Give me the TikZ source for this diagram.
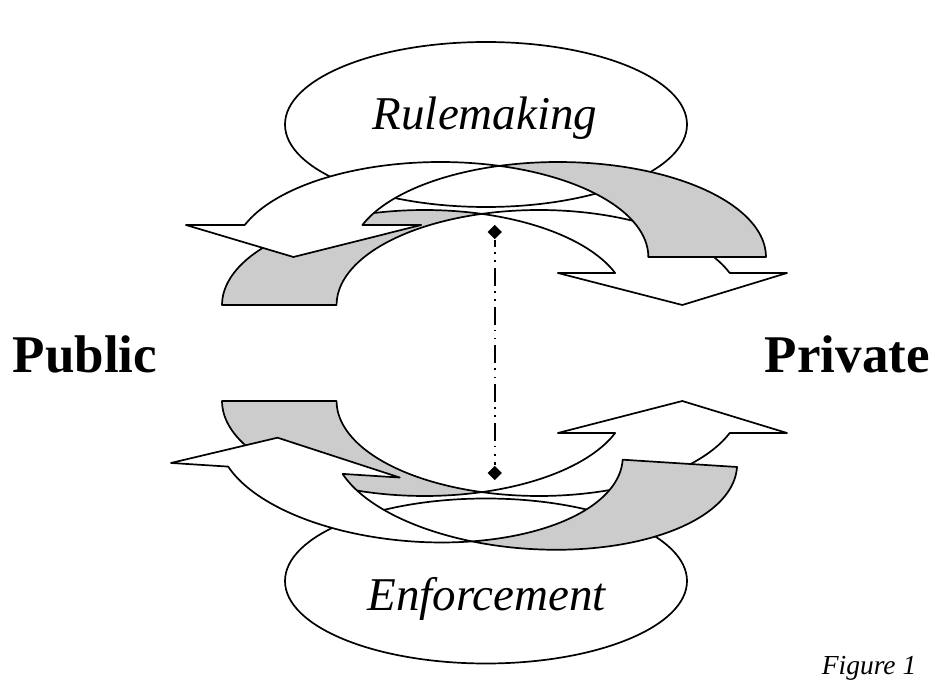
\documentclass[tikz,border=0pt]{standalone}
\usepackage{fontspec}
\setmainfont{Liberation Serif}
\usetikzlibrary{shapes.geometric}
\definecolor{bandgrey}{RGB}{204,204,204}
% one twisted curved arrow: grey back crescent with foot at left, white front crescent with head at right
\newcommand\twistarrow{%
  \filldraw[greyband] plot[domain=-180:-73.565] ({205*cos(\x)},{95*sin(\x)})
     -- plot[domain=-106.435:-180] ({116+205*cos(\x)},{95*sin(\x)}) -- cycle;
  \filldraw[whiteband] plot[domain=-106.435:-19.685] ({116+205*cos(\x)},{95*sin(\x)})
     -- (367.02,-32) -- (261,0) -- (135.02,-32)
     -- plot[domain=-19.685:-73.565] ({205*cos(\x)},{95*sin(\x)}) -- cycle;
}
\begin{document}
\begin{tikzpicture}[x=1pt,y=-1pt,
  line width=1.7pt, line join=round, samples=60,
  greyband/.style={fill=bandgrey, draw=black},
  whiteband/.style={fill=white, draw=black},
  oval/.style={draw=black, fill=white, ellipse, inner sep=0pt, minimum width=402pt, minimum height=165pt},
  ovaltext/.style={font=\fontsize{47}{51}\selectfont\itshape, inner sep=0pt, anchor=base},
  sidetext/.style={font=\fontsize{53}{58}\selectfont\bfseries, inner sep=0pt, anchor=base west},
  captiontext/.style={font=\fontsize{27.5}{30}\selectfont\itshape, inner sep=0pt, anchor=base west},
  endmark/.style={diamond, fill=black, draw=none, inner sep=0pt, minimum width=15pt, minimum height=15pt},
  centreline/.style={line width=1.6pt, line cap=butt,
     dash pattern=on 18pt off 5pt on 1.6pt off 6.5pt on 1.6pt off 6pt, dash phase=11pt}
]
\useasboundingbox[fill=white] (0,0) rectangle (935,684);

% ovals
\node[oval] (rule) at (486,124.5) {};
\node[ovaltext] (ruletext) at (485,130) {Rulemaking};
\node[oval] (enf) at (486,581) {};
\node[ovaltext] (enftext) at (486.5,610) {Enforcement};

% top pair of arrows
\begin{scope}[shift={(424.5,305)}, xscale=0.9877]
  \twistarrow
\end{scope}
\begin{scope}[shift={(558.1,257)}, xscale=-1.014]
  \twistarrow
\end{scope}

% bottom pair of arrows
\begin{scope}[shift={(424.5,401)}, yscale=-1, xscale=0.9877]
  \twistarrow
\end{scope}
\begin{scope}[shift={(534.9,454.1)}, rotate=-3.65, yscale=-1, xscale=-0.988]
  \twistarrow
\end{scope}

% centre line
\node[endmark] (dtop) at (494.7,232) {};
\node[endmark] (dbot) at (494.7,473) {};
\draw[centreline] (dtop) -- (dbot);

% side labels
\node[sidetext] (public) at (12,373) {Public};
\node[sidetext] (private) at (764,373) {Private};
\node[captiontext] (fig) at (821,674) {Figure 1};
\end{tikzpicture}
\end{document}
